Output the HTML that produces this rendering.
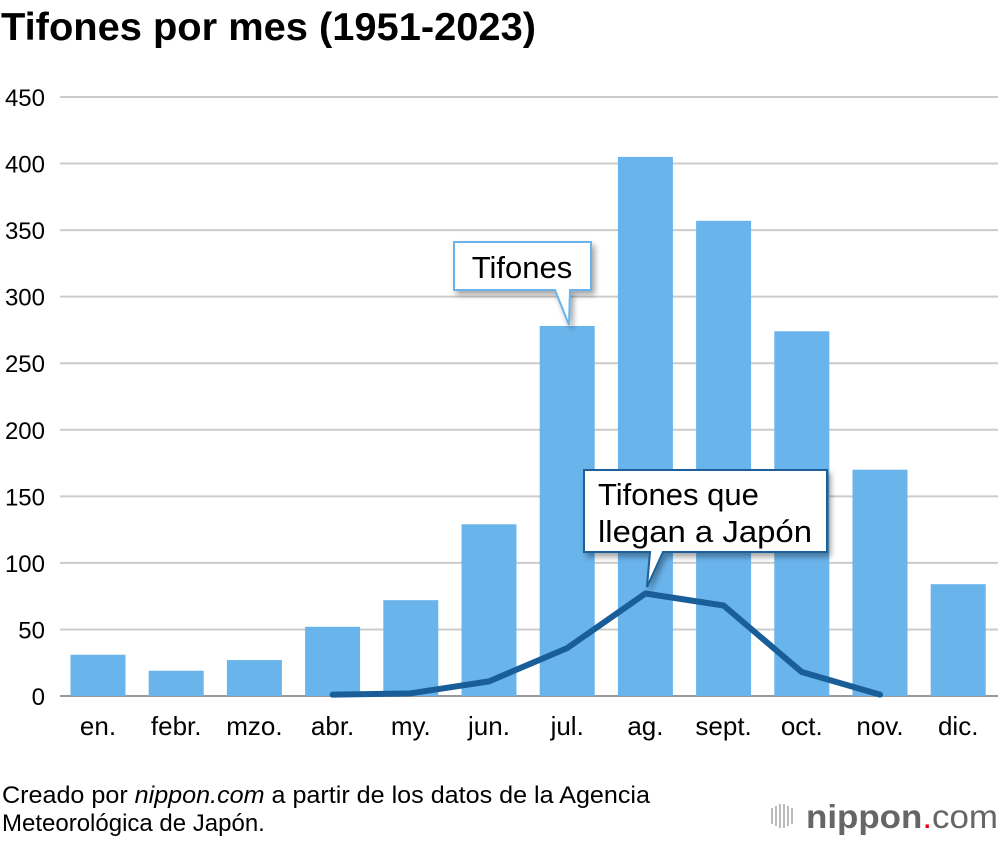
<!DOCTYPE html>
<html><head><meta charset="utf-8"><style>
body{margin:0;background:#fff;width:1000px;height:840px;overflow:hidden;font-family:"Liberation Sans",Arial,sans-serif}
</style></head><body>
<svg width="1000" height="840" xmlns="http://www.w3.org/2000/svg" font-family="Liberation Sans, Arial, sans-serif">
<defs><filter id="sh" x="-20%" y="-20%" width="150%" height="160%"><feDropShadow dx="3" dy="4" stdDeviation="3" flood-color="#000" flood-opacity="0.35"/></filter></defs>
<text x="1" y="40" font-size="39" font-weight="bold" fill="#000" textLength="535" lengthAdjust="spacingAndGlyphs">Tifones por mes (1951-2023)</text>
<g id="grid"></g><g id="bars"></g><g id="line"></g><g id="xl"></g>
<g filter="url(#sh)">
<path d="M454,242 H591 V290 H570 L569,325 L555,290 H454 Z" fill="#fff" stroke="#6ab4ec" stroke-width="2"/>
</g>
<text x="522" y="278" font-size="31" text-anchor="middle" fill="#000">Tifones</text>
<g filter="url(#sh)">
<path d="M584,470 H827 V552 H663 L647,587 L650,552 H584 Z" fill="#fff" stroke="#1a5e99" stroke-width="2"/>
</g>
<text x="598" y="505" font-size="31" fill="#000">Tifones que</text>
<text x="598" y="542" font-size="31" fill="#000" textLength="214" lengthAdjust="spacingAndGlyphs">llegan a Japón</text>
<text x="2" y="803" font-size="24" fill="#000" textLength="648" lengthAdjust="spacingAndGlyphs">Creado por <tspan font-style="italic">nippon.com</tspan> a partir de los datos de la Agencia</text>
<text x="2" y="831" font-size="24" fill="#000">Meteorológica de Japón.</text>
<g>
<g fill="#bbb"><rect x="771" y="808" width="2" height="16"/><rect x="775" y="806" width="2" height="20"/><rect x="779" y="804" width="2" height="24"/><rect x="783" y="804" width="2" height="24"/><rect x="787" y="806" width="2" height="20"/><rect x="791" y="808" width="2" height="16"/></g>
<text x="806" y="828" font-size="33" fill="#666" textLength="192" lengthAdjust="spacingAndGlyphs"><tspan font-weight="bold">nippon</tspan><tspan fill="#e60012">.</tspan>com</text>
</g>
</svg>
<script>
const categories=["en.","febr.","mzo.","abr.","my.","jun.","jul.","ag.","sept.","oct.","nov.","dic."];
const tifones=[31,19,27,52,72,129,278,405,357,274,170,84];
const japon=[null,null,null,1,2,11,36,77,68,18,1,null];
const yTicks=[0,50,100,150,200,250,300,350,400,450];
const NS="http://www.w3.org/2000/svg";
const y0=696,yTop=97,yMax=450;
function y(v){return y0-(v/yMax)*(y0-yTop);}
function x(i){return 98+i*78.2;}
function mk(t,a,p){const e=document.createElementNS(NS,t);for(const k in a)e.setAttribute(k,a[k]);p.appendChild(e);return e;}
const grid=document.getElementById('grid');
yTicks.forEach(v=>{
 const l=mk('line',{x1:60,x2:998,y1:y(v),y2:y(v),stroke:v===0?'#999':'#ccc','stroke-width':2},grid);
 
 
 const t=mk('text',{x:45,y:y(v)+9,'font-size':24,'text-anchor':'end',fill:'#000'},grid);
 t.textContent=v;
 
 
});
const bars=document.getElementById('bars');
tifones.forEach((v,i)=>{
 const r=mk('rect',{x:x(i)-27.5,y:y(v),width:55,height:y0-y(v),fill:'#6ab4ec'},bars);
 
 
});
const xl=document.getElementById('xl');
categories.forEach((c,i)=>{
 const t=mk('text',{x:x(i),y:735,'font-size':26,'text-anchor':'middle',fill:'#000'},xl);
 t.textContent=c;
 
 
});
const pts=[];japon.forEach((v,i)=>{if(v!==null)pts.push(x(i)+','+y(v));});
const pl=mk('polyline',{points:pts.join(' '),fill:'none',stroke:'#1a5e99','stroke-width':6,'stroke-linejoin':'round','stroke-linecap':'round'},document.getElementById('line'));


</script>
</body></html>
